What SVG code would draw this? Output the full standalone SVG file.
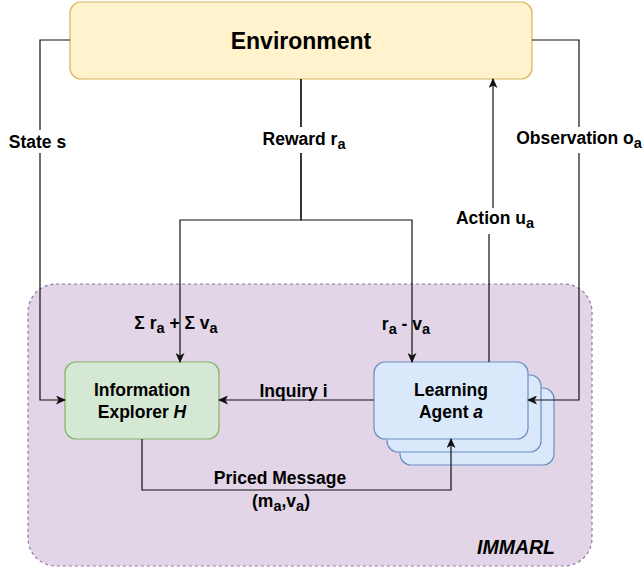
<svg xmlns="http://www.w3.org/2000/svg" width="644" height="568" viewBox="0 0 644 568">
<defs>
<style>
text{font-family:"Liberation Sans",Arial,sans-serif;font-weight:bold;fill:#000;}
.lbl{font-size:17.5px;text-anchor:middle;}
.sub{font-size:14.5px;}
.node{font-size:17.5px;text-anchor:middle;}
.edge{fill:none;stroke:#111;stroke-width:1.2;}
.bg{fill:#ffffff;stroke:none;}
</style>
<marker id="arr" markerWidth="10" markerHeight="9" refX="9" refY="4.5" orient="auto" markerUnits="userSpaceOnUse">
<path d="M0,0 L10,4.5 L0,9 L2.5,4.5 Z" fill="#111"/>
</marker>
</defs>
<rect width="644" height="568" fill="#ffffff"/>
<g id="immarl">
<rect x="28" y="284" width="564" height="282" rx="28" ry="28" fill="#e1d5e7" stroke="#9673a6" stroke-width="1.2" stroke-dasharray="3 3"/>
<text x="555" y="554" style="font-size:19.5px;font-style:italic;text-anchor:end;">IMMARL</text>
</g>
<g id="environment">
<rect x="70" y="2" width="462" height="77" rx="11" ry="11" fill="#fff2cc" stroke="#d6b656" stroke-width="1.2"/>
<text x="301" y="48.5" style="font-size:23px;text-anchor:middle;">Environment</text>
</g>
<g id="explorer">
<rect x="65" y="362" width="154" height="77" rx="11" ry="11" fill="#d5e8d4" stroke="#82b366" stroke-width="1.2"/>
<text class="node" x="142" y="396">Information</text>
<text class="node" x="142" y="418">Explorer <tspan style="font-style:italic">H</tspan></text>
</g>
<g id="agent">
<rect x="400" y="388" width="154" height="77" rx="11" ry="11" fill="#dae8fc" stroke="#6c8ebf" stroke-width="1.2"/>
<rect x="387" y="375" width="154" height="77" rx="11" ry="11" fill="#dae8fc" stroke="#6c8ebf" stroke-width="1.2"/>
<rect x="374" y="362" width="154" height="77" rx="11" ry="11" fill="#dae8fc" stroke="#6c8ebf" stroke-width="1.2"/>
<text class="node" x="451" y="396">Learning</text>
<text class="node" x="451" y="418">Agent <tspan style="font-style:italic">a</tspan></text>
</g>
<g id="connectors">
<path class="edge" d="M70,40 H40 V400 H65" marker-end="url(#arr)"/>
<path class="edge" d="M301,79 V220 H180 V362" marker-end="url(#arr)"/>
<path class="edge" d="M301,79 V220 H412 V362" marker-end="url(#arr)"/>
<path class="edge" d="M489,362 V220 H493 V79" marker-end="url(#arr)"/>
<path class="edge" d="M532,40 H579 V400 H528" marker-end="url(#arr)"/>
<path class="edge" d="M374,400 H219" marker-end="url(#arr)"/>
<path class="edge" d="M142,439 V490 H451 V439" marker-end="url(#arr)"/>
<rect class="bg" x="8" y="130" width="60" height="23"/>
<text class="lbl" x="37.5" y="148">State s</text>
<rect class="bg" x="259" y="127" width="90" height="26"/>
<text class="lbl" x="304" y="145">Reward r<tspan class="sub" dy="4">a</tspan></text>
<rect class="bg" x="514" y="127" width="130" height="26"/>
<text class="lbl" x="579" y="144">Observation o<tspan class="sub" dy="4">a</tspan></text>
<rect class="bg" x="453" y="208" width="84" height="26"/>
<text class="lbl" x="495" y="224">Action u<tspan class="sub" dy="4">a</tspan></text>
<text class="lbl" x="176" y="329">Σ r<tspan class="sub" dy="4">a</tspan><tspan dy="-4"> + Σ v</tspan><tspan class="sub" dy="4">a</tspan></text>
<text class="lbl" x="406" y="330">r<tspan class="sub" dy="4">a</tspan><tspan dy="-4"> - v</tspan><tspan class="sub" dy="4">a</tspan></text>
<text class="lbl" x="293.5" y="396.5">Inquiry i</text>
<text class="lbl" x="280" y="484">Priced Message</text>
<text class="lbl" x="281" y="507">(m<tspan class="sub" dy="4">a</tspan><tspan dy="-4">,v</tspan><tspan class="sub" dy="4">a</tspan><tspan dy="-4">)</tspan></text>
</g>
</svg>
